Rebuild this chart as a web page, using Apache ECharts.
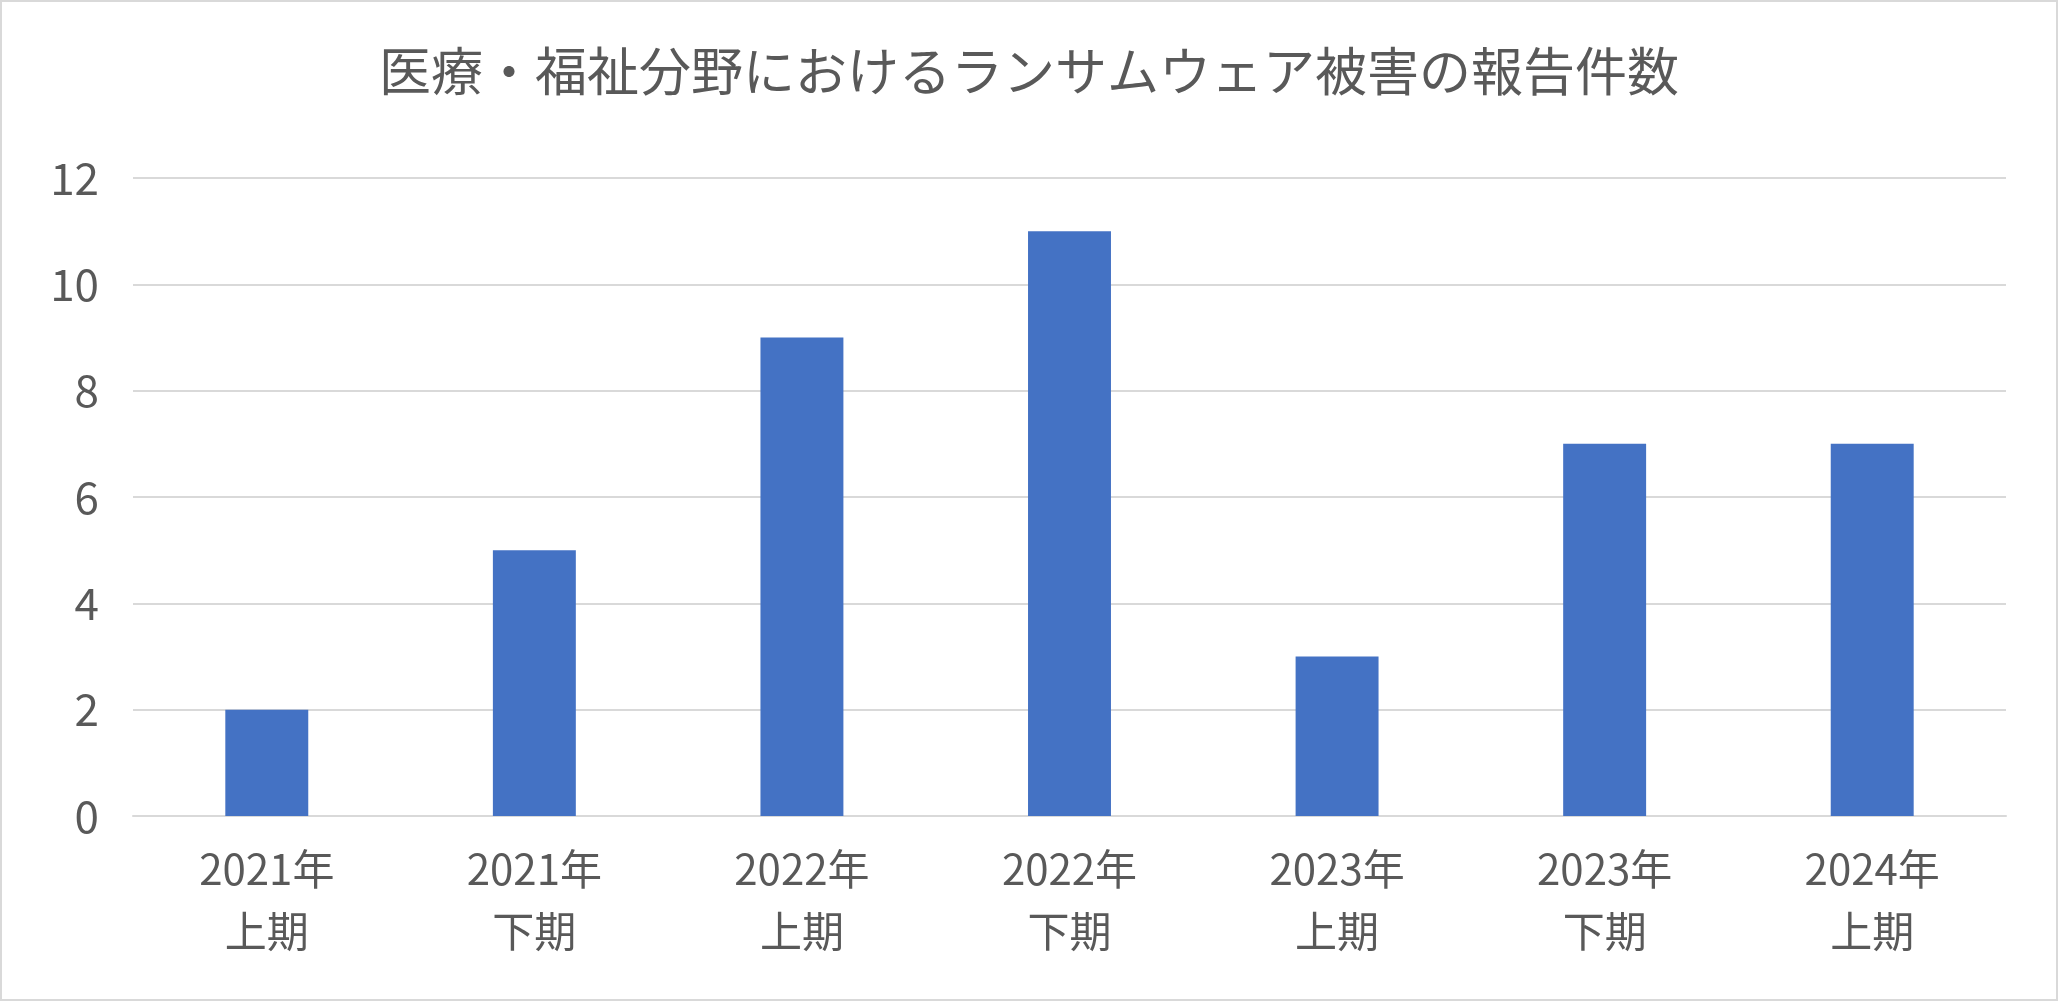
<!DOCTYPE html>
<html><head><meta charset="utf-8">
<script src="https://cdn.jsdelivr.net/npm/echarts@6/dist/echarts.min.js"></script>
<style>html,body{margin:0;padding:0;background:#fff}#c{width:2058px;height:1001px;box-sizing:border-box;border:2px solid #d9d9d9}</style>
</head><body><div id="c"></div>
<script>
const title = '医療・福祉分野におけるランサムウェア被害の報告件数';
const categories = ['2021年\n上期','2021年\n下期','2022年\n上期','2022年\n下期','2023年\n上期','2023年\n下期','2024年\n上期'];
const values = [2,5,9,11,3,7,7];
const font = '"Noto Sans CJK JP", sans-serif';
const chart = echarts.init(document.getElementById('c'));
chart.setOption({
  animation:false,
  title:{text:title,left:'center',top:38,textStyle:{fontFamily:font,fontSize:52,fontWeight:'normal',color:'#595959'}},
  grid:{left:131,right:50,top:176,bottom:183,containLabel:false},
  xAxis:{type:'category',data:categories,axisTick:{show:false},
    axisLine:{lineStyle:{color:'#d9d9d9',width:2}},
    axisLabel:{fontFamily:font,fontSize:42,color:'#595959',lineHeight:62,margin:22}},
  yAxis:{type:'value',min:0,max:12,interval:2,
    axisLabel:{fontFamily:font,fontSize:44,color:'#595959',margin:34},
    splitLine:{lineStyle:{color:'#d9d9d9',width:2}}},
  series:[{type:'bar',data:values,barWidth:'31%',itemStyle:{color:'#4472C4'}}]
});
</script></body></html>
